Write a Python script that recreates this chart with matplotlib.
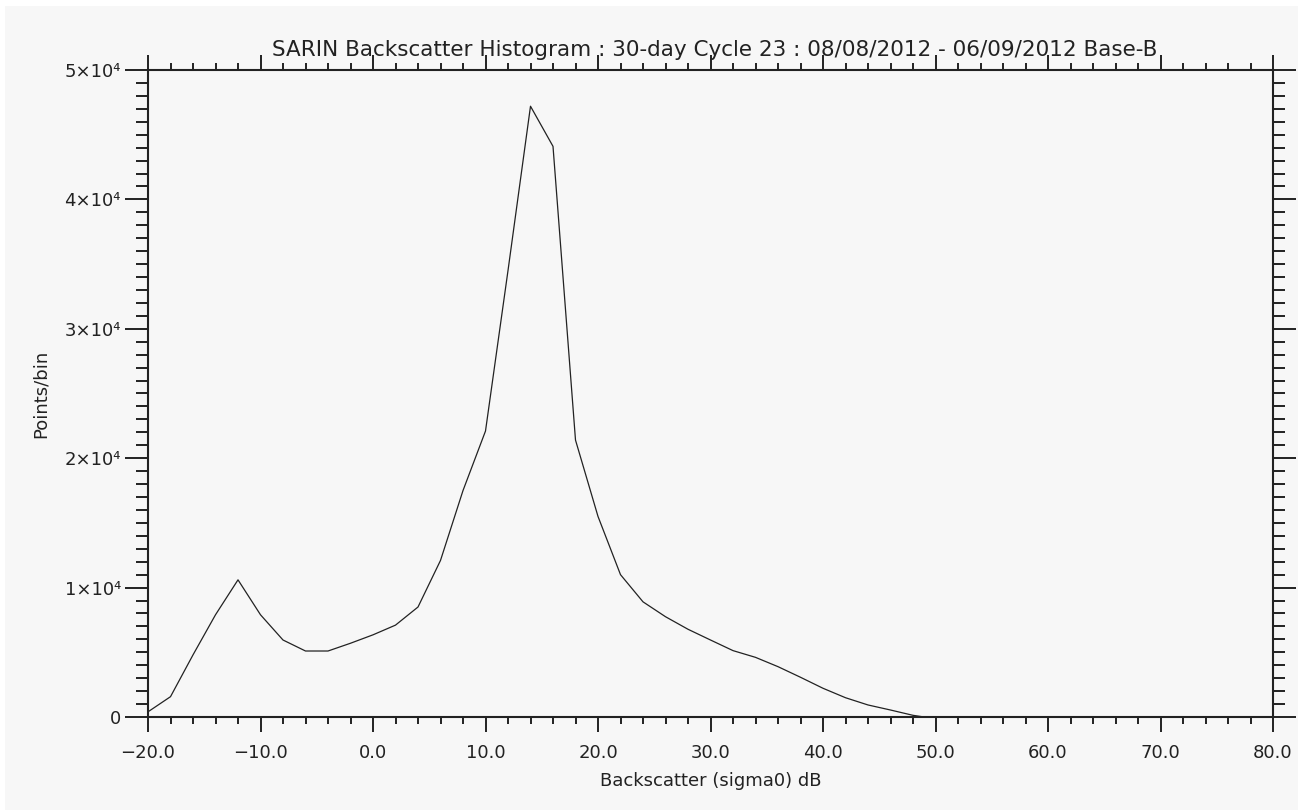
import matplotlib
matplotlib.use("Agg")
import matplotlib.pyplot as plt
from matplotlib.patches import Rectangle
from matplotlib.ticker import MultipleLocator, FuncFormatter

# histogram bins (dB) and counts
sigma0 = [-20, -18, -16, -14, -12, -10, -8, -6, -4, -2, 0, 2, 4, 6, 8, 10,
          12, 14, 16, 18, 20, 22, 24, 26, 28, 30, 32, 34, 36, 38, 40, 42,
          44, 46, 48, 49]
counts = [400, 1570, 4800, 7900, 10600, 7900, 5950, 5100, 5100, 5700, 6350,
          7100, 8500, 12100, 17500, 22100, 34500, 47200, 44100, 21400, 15500,
          11000, 8900, 7750, 6780, 5950, 5130, 4610, 3890, 3070, 2220, 1490,
          930, 540, 130, 0]

title = "SARIN Backscatter Histogram : 30-day Cycle 23 : 08/08/2012 - 06/09/2012 Base-B"
xlabel = "Backscatter (sigma0) dB"
ylabel = "Points/bin"

W, H = 1314, 810
fig = plt.figure(figsize=(W / 100, H / 100), dpi=100, facecolor="white")
# light grey canvas with a thin white border
fig.patches.append(Rectangle((5 / W, 0), (1298 - 5) / W, (H - 6) / H,
                             transform=fig.transFigure, facecolor="#f7f7f7",
                             edgecolor="none", zorder=-10))

ax = fig.add_axes([148 / W, (H - 717) / H, (1273 - 148) / W, (717 - 70) / H])
ax.set_facecolor("none")

ink = "#222222"
ax.plot(sigma0, counts, color=ink, lw=0.9, clip_on=False)

ax.set_xlim(-20, 80)
ax.set_ylim(0, 50000)

ax.xaxis.set_major_locator(MultipleLocator(10))
ax.xaxis.set_minor_locator(MultipleLocator(2))
ax.yaxis.set_major_locator(MultipleLocator(10000))
ax.yaxis.set_minor_locator(MultipleLocator(1000))


def xfmt(v, pos):
    s = f"{abs(v):.1f}"
    return ("\u2212" + s) if v < 0 else s


def yfmt(v, pos):
    if v == 0:
        return "0"
    return f"{int(round(v / 10000))}\u00d710\u2074"


ax.xaxis.set_major_formatter(FuncFormatter(xfmt))
ax.yaxis.set_major_formatter(FuncFormatter(yfmt))

for s in ax.spines.values():
    s.set_linewidth(1.5)
    s.set_color(ink)

ax.tick_params(axis="x", which="major", direction="out", length=10.5, width=1.4,
               top=True, color=ink, labelsize=13, pad=9, labelcolor=ink)
ax.tick_params(axis="x", which="minor", direction="out", length=5, width=1.4,
               top=True, color=ink)
ax.tick_params(axis="y", which="major", direction="out", length=16.5, width=1.4,
               right=True, color=ink, labelsize=13, pad=3, labelcolor=ink)
ax.tick_params(axis="y", which="minor", direction="out", length=8.5, width=1.4,
               right=True, color=ink)

ax.set_xlabel(xlabel, fontsize=13, color=ink, labelpad=7)
ax.set_ylabel(ylabel, fontsize=13, color=ink, labelpad=11)
fig.text(715 / W, 1 - 50 / H, title, fontsize=15.5, color=ink,
         ha="center", va="center")

fig.savefig("out.png", dpi=100, facecolor=fig.get_facecolor())
